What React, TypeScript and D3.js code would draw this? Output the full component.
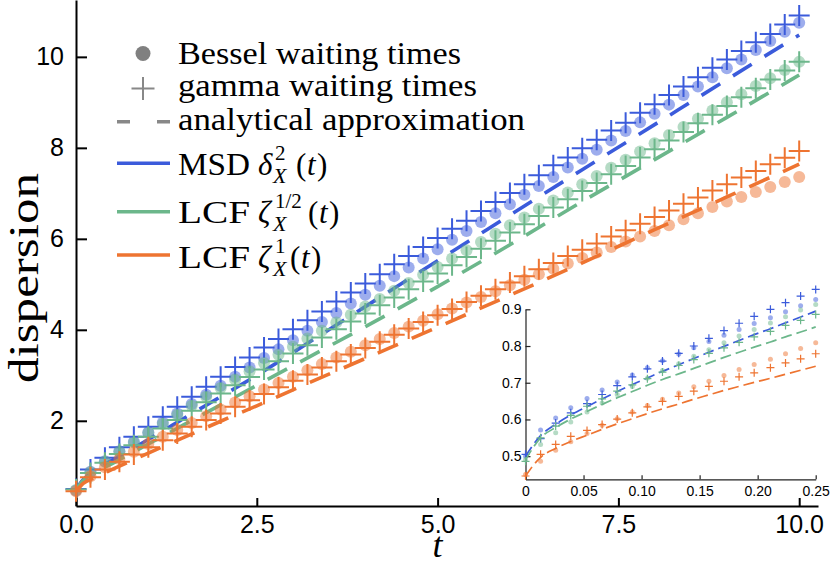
import { useEffect, useRef } from "react";
import * as d3 from "d3";

// main panel sample times (step 0.2)
const tMain = [
  0, 0.2, 0.4, 0.6, 0.8, 1, 1.2, 1.4, 1.6, 1.8, 2, 2.2, 2.4, 2.6, 2.8, 3, 3.2, 3.4, 3.6, 3.8,
  4, 4.2, 4.4, 4.6, 4.8, 5, 5.2, 5.4, 5.6, 5.8, 6, 6.2, 6.4, 6.6, 6.8, 7, 7.2, 7.4, 7.6, 7.8,
  8, 8.2, 8.4, 8.6, 8.8, 9, 9.2, 9.4, 9.6, 9.8, 10,
];

const besselMSD = [
  0.47, 0.88, 1.11, 1.33, 1.54, 1.75, 1.96, 2.16, 2.37, 2.57, 2.77, 2.97, 3.17, 3.38, 3.57, 3.77,
  3.98, 4.17, 4.37, 4.58, 4.77, 4.97, 5.18, 5.37, 5.57, 5.77, 5.98, 6.17, 6.37, 6.56, 6.76, 6.97,
  7.16, 7.36, 7.57, 7.76, 7.96, 8.16, 8.37, 8.56, 8.75, 8.95, 9.16, 9.35, 9.55, 9.75, 9.94, 10.15,
  10.35, 10.55, 10.75,
];
const gammaMSD = [
  0.5, 0.93, 1.19, 1.42, 1.65, 1.87, 2.09, 2.31, 2.53, 2.75, 2.97, 3.18, 3.39, 3.61, 3.8, 4.01,
  4.21, 4.4, 4.62, 4.82, 5.02, 5.22, 5.44, 5.62, 5.82, 6.02, 6.22, 6.4, 6.61, 6.81, 7.01, 7.2,
  7.4, 7.62, 7.79, 7.99, 8.18, 8.38, 8.55, 8.77, 8.96, 9.16, 9.35, 9.55, 9.76, 9.94, 10.13, 10.32,
  10.5, 10.71, 10.91,
];
const besselLCFHalf = [
  0.48, 0.87, 1.1, 1.32, 1.52, 1.73, 1.93, 2.13, 2.33, 2.53, 2.72, 2.91, 3.09, 3.27, 3.45, 3.63,
  3.81, 3.98, 4.16, 4.33, 4.51, 4.68, 4.86, 5.03, 5.21, 5.38, 5.57, 5.75, 5.93, 6.11, 6.3, 6.47,
  6.66, 6.84, 7.02, 7.2, 7.38, 7.56, 7.74, 7.92, 8.1, 8.28, 8.46, 8.64, 8.82, 9.0, 9.18, 9.36,
  9.53, 9.71, 9.89,
];
const gammaLCFHalf = [
  0.49, 0.85, 1.08, 1.27, 1.46, 1.65, 1.83, 2.02, 2.22, 2.41, 2.6, 2.78, 2.96, 3.13, 3.31, 3.48,
  3.66, 3.83, 4.01, 4.18, 4.36, 4.54, 4.71, 4.89, 5.06, 5.24, 5.42, 5.6, 5.78, 5.96, 6.14, 6.32,
  6.5, 6.69, 6.87, 7.05, 7.23, 7.42, 7.6, 7.79, 7.97, 8.16, 8.35, 8.54, 8.73, 8.92, 9.11, 9.31,
  9.5, 9.7, 9.89,
];
const besselLCFOne = [
  0.45, 0.78, 0.98, 1.16, 1.32, 1.49, 1.65, 1.8, 1.95, 2.1, 2.25, 2.4, 2.54, 2.69, 2.83, 2.97,
  3.11, 3.25, 3.39, 3.52, 3.66, 3.8, 3.93, 4.07, 4.2, 4.34, 4.47, 4.6, 4.72, 4.85, 4.98, 5.1,
  5.22, 5.34, 5.46, 5.58, 5.7, 5.82, 5.94, 6.05, 6.17, 6.3, 6.43, 6.56, 6.7, 6.82, 6.92, 7.03,
  7.14, 7.25, 7.36,
];
const gammaLCFOne = [
  0.45, 0.76, 0.93, 1.1, 1.26, 1.42, 1.57, 1.72, 1.87, 2.02, 2.16, 2.31, 2.45, 2.59, 2.74, 2.88,
  3.02, 3.17, 3.31, 3.46, 3.6, 3.74, 3.89, 4.03, 4.17, 4.32, 4.46, 4.61, 4.75, 4.89, 5.04, 5.18,
  5.33, 5.47, 5.62, 5.76, 5.9, 6.05, 6.19, 6.33, 6.48, 6.62, 6.77, 6.91, 7.06, 7.2, 7.35, 7.49,
  7.64, 7.78, 7.93,
];

// analytical approximation, main panel
const tTheory = [0, 0.1, 0.25, 0.5, 1, 1.5, 2, 2.5, 3, 4, 5, 6, 7, 8, 9, 10];
const theoryMSD = [0.5, 0.705, 0.895, 1.13, 1.59, 2.06, 2.53, 3.0, 3.5, 4.51, 5.52, 6.52, 7.52, 8.51, 9.5, 10.48];
const theoryLCFHalf = [0.49, 0.688, 0.852, 1.06, 1.49, 1.92, 2.35, 2.78, 3.21, 4.07, 4.95, 5.87, 6.82, 7.74, 8.67, 9.6];
const theoryLCFOne = [0.446, 0.622, 0.745, 0.93, 1.29, 1.64, 1.99, 2.33, 2.68, 3.37, 4.06, 4.76, 5.47, 6.2, 6.92, 7.64];

// inset, short times
const tInset = [
  0, 0.013, 0.026, 0.039, 0.053, 0.066, 0.079, 0.092, 0.105, 0.118, 0.132, 0.145, 0.158, 0.171,
  0.184, 0.197, 0.211, 0.224, 0.237, 0.25,
];
const besselMSDIn = [0.5, 0.571, 0.604, 0.632, 0.657, 0.68, 0.702, 0.721, 0.741, 0.76, 0.778, 0.795, 0.812, 0.829, 0.845, 0.861, 0.877, 0.893, 0.91, 0.927];
const gammaMSDIn = [0.505, 0.548, 0.59, 0.618, 0.643, 0.668, 0.692, 0.716, 0.738, 0.759, 0.78, 0.8, 0.821, 0.842, 0.862, 0.881, 0.9, 0.918, 0.936, 0.954];
const besselLCFHalfIn = [0.49, 0.532, 0.564, 0.593, 0.62, 0.645, 0.668, 0.69, 0.712, 0.733, 0.752, 0.772, 0.79, 0.809, 0.827, 0.845, 0.863, 0.88, 0.898, 0.913];
const gammaLCFHalfIn = [0.486, 0.55, 0.582, 0.611, 0.636, 0.656, 0.677, 0.694, 0.711, 0.729, 0.747, 0.763, 0.78, 0.795, 0.81, 0.825, 0.84, 0.856, 0.87, 0.886];
const besselLCFOneIn = [0.45, 0.486, 0.516, 0.539, 0.562, 0.584, 0.602, 0.62, 0.638, 0.655, 0.672, 0.689, 0.704, 0.72, 0.736, 0.75, 0.764, 0.779, 0.793, 0.809];
const gammaLCFOneIn = [0.446, 0.505, 0.532, 0.554, 0.57, 0.586, 0.601, 0.618, 0.634, 0.649, 0.663, 0.677, 0.69, 0.704, 0.716, 0.727, 0.741, 0.754, 0.765, 0.779];
const theoryMSDIn = [0.5, 0.556, 0.587, 0.612, 0.635, 0.656, 0.676, 0.695, 0.713, 0.731, 0.749, 0.766, 0.783, 0.799, 0.815, 0.831, 0.847, 0.863, 0.879, 0.895];
const theoryLCFHalfIn = [0.49, 0.55, 0.578, 0.601, 0.622, 0.641, 0.659, 0.676, 0.693, 0.709, 0.724, 0.739, 0.754, 0.769, 0.783, 0.797, 0.811, 0.825, 0.838, 0.852];
const theoryLCFOneIn = [0.446, 0.497, 0.521, 0.54, 0.557, 0.573, 0.588, 0.602, 0.616, 0.629, 0.642, 0.655, 0.667, 0.679, 0.69, 0.701, 0.712, 0.723, 0.734, 0.745];

const xTicks = [0, 2.5, 5, 7.5, 10];
const yTicks = [2, 4, 6, 8, 10];
const insetXTicks = [0, 0.05, 0.1, 0.15, 0.2, 0.25];
const insetYTicks = [0.5, 0.6, 0.7, 0.8, 0.9];

const BLUE = "#3b5bdb";
const GREEN = "#6cb78b";
const ORANGE = "#ee7431";
const GREY = "#888888";
const SANS = "'Liberation Sans', Arial, sans-serif";
const SERIF = "'Liberation Serif', 'Times New Roman', serif";

type Sel = d3.Selection<SVGGElement, unknown, null, undefined>;

function plus(x: number, y: number, s: number) {
  return `M${x - s},${y}H${x + s}M${x},${y - s}V${y + s}`;
}

export default function App() {
  const svgRef = useRef<SVGSVGElement | null>(null);

  useEffect(() => {
    const svgEl = svgRef.current;
    if (!svgEl) return;
    const svg = d3.select(svgEl);
    svg.selectAll("*").remove();

    const x = d3.scaleLinear().domain([0, 10.26]).range([76, 818]);
    const y = d3.scaleLinear().domain([0.127, 11.25]).range([506, 0]);
    const xi = d3.scaleLinear().domain([0, 0.25]).range([525.5, 815.7]);
    const yi = d3.scaleLinear().domain([0.437, 0.9]).range([479.3, 309.3]);

    const series = [
      { color: BLUE, bessel: besselMSD, gamma: gammaMSD, theory: theoryMSD, besselIn: besselMSDIn, gammaIn: gammaMSDIn, theoryIn: theoryMSDIn },
      { color: GREEN, bessel: besselLCFHalf, gamma: gammaLCFHalf, theory: theoryLCFHalf, besselIn: besselLCFHalfIn, gammaIn: gammaLCFHalfIn, theoryIn: theoryLCFHalfIn },
      { color: ORANGE, bessel: besselLCFOne, gamma: gammaLCFOne, theory: theoryLCFOne, besselIn: besselLCFOneIn, gammaIn: gammaLCFOneIn, theoryIn: theoryLCFOneIn },
    ];

    const drawMarks = (
      g: Sel,
      sx: d3.ScaleLinear<number, number>,
      sy: d3.ScaleLinear<number, number>,
      tPts: number[],
      tLine: number[],
      bessel: number[],
      gamma: number[],
      theory: number[],
      color: string,
      o: { r: number; arm: number; cw: number; lw: number; dash: string }
    ) => {
      const line = d3
        .line<number>()
        .x((_, i) => sx(tLine[i]))
        .y((v) => sy(v))
        .curve(d3.curveMonotoneX);
      g.append("path")
        .datum(theory)
        .attr("fill", "none")
        .attr("stroke", color)
        .attr("stroke-width", o.lw)
        .attr("stroke-dasharray", o.dash)
        .attr("d", line);
      g.selectAll(null)
        .data(bessel)
        .enter()
        .append("circle")
        .attr("cx", (_, i) => sx(tPts[i]))
        .attr("cy", (v) => sy(v))
        .attr("r", o.r)
        .attr("fill", color)
        .attr("fill-opacity", 0.5);
      g.selectAll(null)
        .data(gamma)
        .enter()
        .append("path")
        .attr("d", (v, i) => plus(sx(tPts[i]), sy(v), o.arm))
        .attr("stroke", color)
        .attr("stroke-width", o.cw)
        .attr("fill", "none");
    };

    // main axes
    const axY = svg.append("g").attr("transform", `translate(${x(0)},0)`);
    axY.call(d3.axisLeft(y).tickValues(yTicks).tickFormat(d3.format("d")).tickSizeInner(-11).tickSizeOuter(0).tickPadding(12));
    const axX = svg.append("g").attr("transform", `translate(0,${y.range()[0]})`);
    axX.call(d3.axisBottom(x).tickValues(xTicks).tickFormat(d3.format(".1f")).tickSizeInner(-8).tickSizeOuter(0).tickPadding(9));
    [axY, axX].forEach((a) => {
      a.attr("font-family", SANS).attr("font-size", 25);
      a.selectAll(".domain").attr("stroke", "#000").attr("stroke-width", 2);
      a.selectAll(".tick line").attr("stroke", "#000").attr("stroke-width", 2);
      a.selectAll("text").attr("fill", "#000");
    });

    // inset axes
    const ayi = svg.append("g").attr("transform", `translate(${xi(0)},0)`);
    ayi.call(d3.axisLeft(yi).tickValues(insetYTicks).tickFormat(d3.format(".1f")).tickSizeInner(-5).tickSizeOuter(0).tickPadding(4));
    const axi = svg.append("g").attr("transform", `translate(0,${yi.range()[0]})`);
    axi.call(
      d3
        .axisBottom(xi)
        .tickValues(insetXTicks)
        .tickFormat((d) => (+d === 0 ? "0" : d3.format(".2f")(+d)))
        .tickSizeInner(-4)
        .tickSizeOuter(0)
        .tickPadding(7)
    );
    [ayi, axi].forEach((a) => {
      a.attr("font-family", SANS).attr("font-size", 14);
      a.selectAll(".domain").attr("stroke", "#222").attr("stroke-width", 1.2);
      a.selectAll(".tick line").attr("stroke", "#222").attr("stroke-width", 1.2);
      a.selectAll("text").attr("fill", "#000");
    });

    const main = svg.append("g");
    const inset = svg.append("g");
    series.forEach((s) => {
      drawMarks(main, x, y, tMain, tTheory, s.bessel, s.gamma, s.theory, s.color, { r: 6, arm: 10.5, cw: 2, lw: 3.6, dash: "22 15" });
      drawMarks(inset, xi, yi, tInset, tInset, s.besselIn, s.gammaIn, s.theoryIn, s.color, { r: 2.5, arm: 4, cw: 1.2, lw: 1.7, dash: "11 5" });
    });

    // axis titles
    svg.append("text")
      .attr("transform", "translate(38,278) rotate(-90)")
      .attr("text-anchor", "middle")
      .attr("font-family", SERIF)
      .attr("font-size", 42)
      .attr("textLength", 210)
      .attr("lengthAdjust", "spacingAndGlyphs")
      .text("dispersion");
    svg.append("text")
      .attr("x", x(5))
      .attr("y", 557)
      .attr("text-anchor", "middle")
      .attr("font-family", SERIF)
      .attr("font-style", "italic")
      .attr("font-size", 36)
      .text("t");

    // legend
    const lg = svg.append("g").attr("font-family", SERIF).attr("font-size", 31).attr("fill", "#000");
    lg.append("circle").attr("cx", 143).attr("cy", 53.5).attr("r", 7.5).attr("fill", "#808080");
    lg.append("path").attr("d", plus(143, 88.5, 11.5)).attr("stroke", GREY).attr("stroke-width", 2);
    lg.append("path").attr("d", "M117,121.7H170").attr("stroke", GREY).attr("stroke-width", 3.6).attr("stroke-dasharray", "13 27");
    [
      { cy: 163.3, c: BLUE },
      { cy: 211.7, c: GREEN },
      { cy: 255, c: ORANGE },
    ].forEach((r) => {
      lg.append("path").attr("d", `M117,${r.cy}H170`).attr("stroke", r.c).attr("stroke-width", 3.5);
    });
    const plain = [
      { text: "Bessel waiting times", y: 63.5, len: 283 },
      { text: "gamma waiting times", y: 96, len: 299 },
      { text: "analytical approximation", y: 130, len: 347 },
    ];
    plain.forEach((p) => {
      lg.append("text")
        .attr("x", 178)
        .attr("y", p.y)
        .attr("textLength", p.len)
        .attr("lengthAdjust", "spacingAndGlyphs")
        .text(p.text);
    });
    const mathRow = (
      base: number,
      name: string,
      sym: string,
      sup: string,
      parenX: number
    ) => {
      lg.append("text").attr("x", 178).attr("y", base).attr("textLength", 72).attr("lengthAdjust", "spacingAndGlyphs").text(name);
      lg.append("text").attr("x", 258).attr("y", base).attr("font-style", "italic").text(sym);
      lg.append("text").attr("x", 275).attr("y", base - 15).attr("font-size", 21).text(sup);
      lg.append("text").attr("x", 273).attr("y", base + 8).attr("font-size", 22).attr("font-style", "italic").text("X");
      lg.append("text").attr("x", parenX).attr("y", base).text("(");
      lg.append("text").attr("x", parenX + 11).attr("y", base).attr("font-style", "italic").text("t");
      lg.append("text").attr("x", parenX + 21).attr("y", base).text(")");
    };
    mathRow(175, "MSD", "\u03b4", "2", 296);
    mathRow(223, "LCF", "\u03b6", "1/2", 308);
    mathRow(268, "LCF", "\u03b6", "1", 290);
  }, []);

  return (
    <svg
      ref={svgRef}
      width={830}
      height={566}
      style={{ position: "absolute", left: 0, top: 0, background: "#fff" }}
      role="img"
      aria-label="dispersion versus t"
    />
  );
}
